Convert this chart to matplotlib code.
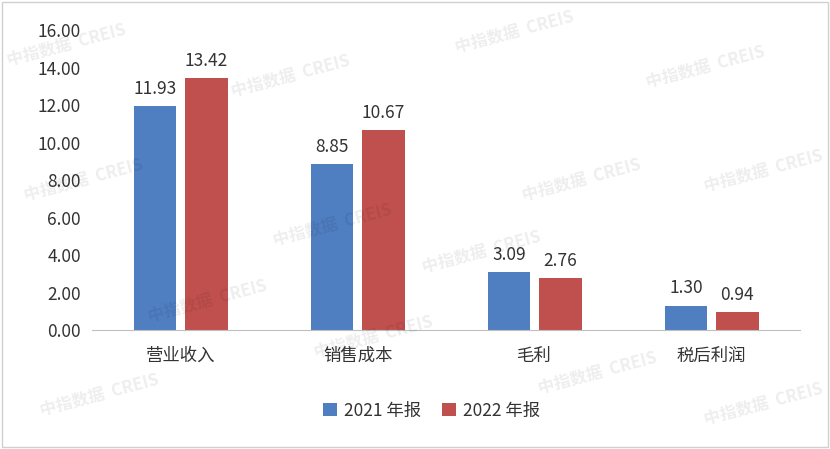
import matplotlib
matplotlib.use("Agg")
import matplotlib.pyplot as plt
import numpy as np
from matplotlib.patches import Rectangle

plt.rcParams["font.family"] = ["Noto Sans CJK SC"]

categories = ["营业收入", "销售成本", "毛利", "税后利润"]
series_names = ["2021 年报", "2022 年报"]
v2021 = [11.93, 8.85, 3.09, 1.30]
v2022 = [13.42, 10.67, 2.76, 0.94]
yticks = [0, 2, 4, 6, 8, 10, 12, 14, 16]

fig = plt.figure(figsize=(8.3, 4.49), dpi=100)
fig.patches.append(Rectangle((0.003, 0.005), 0.994, 0.99, transform=fig.transFigure,
                             fill=False, edgecolor="#d0d0d0", lw=1))
ax = fig.add_axes([0.111, 0.265, 0.853, 0.668])
x = np.arange(len(categories))
w = 0.24
c1, c2 = "#4F7EC1", "#C0504D"
b1 = ax.bar(x - 0.27, v2021, w, color=c1, label=series_names[0])
b2 = ax.bar(x + 0.02 , v2022, w, color=c2, label=series_names[1])
for bars, vals in ((b1, v2021), (b2, v2022)):
    for b, v in zip(bars, vals):
        ax.text(b.get_x() + b.get_width() / 2, v + 0.45, f"{v:.2f}", ha="center",
                va="bottom", fontsize=12.5, color="#333333")
ax.set_xlim(-0.625, 3.375)
ax.set_ylim(0, 16)
ax.set_yticks(yticks)
ax.set_yticklabels([f"{t:.2f}" for t in yticks], fontsize=12.5, color="#333333")
ax.set_xticks(x - 0.125)
ax.set_xticklabels(categories, fontsize=12.5, color="#333333")
for s in ["top", "right", "left"]:
    ax.spines[s].set_visible(False)
ax.spines["bottom"].set_color("#bfbfbf")
ax.tick_params(length=0, pad=8)
ax.tick_params(axis="x", pad=12)
fig.legend(loc="center", bbox_to_anchor=(0.52, 0.085), ncol=2, frameon=False,
           fontsize=12.5, handlelength=0.8, handleheight=0.8, columnspacing=1.2,
           handletextpad=0.4, labelcolor="#333333")
for (fx, fy) in [(0.08, 0.9), (0.35, 0.83), (0.62, 0.93), (0.85, 0.85), (0.1, 0.6),
                 (0.4, 0.5), (0.7, 0.6), (0.92, 0.62), (0.12, 0.12), (0.45, 0.25),
                 (0.72, 0.17), (0.92, 0.1), (0.25, 0.33), (0.58, 0.44)]:
    fig.text(fx, fy, "中指数据  CREIS", fontsize=12, color="#000000", alpha=0.07,
             rotation=15, ha="center", va="center", fontweight="bold")
fig.savefig("out.png", dpi=100)
